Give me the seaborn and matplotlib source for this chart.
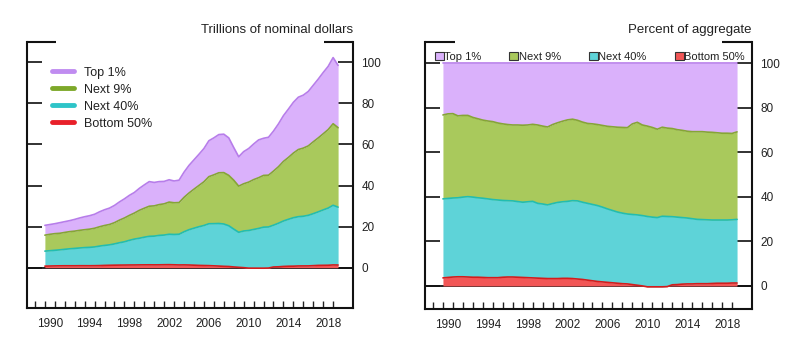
import numpy as np
import pandas as pd
import matplotlib
matplotlib.use("Agg")
import matplotlib.pyplot as plt
from matplotlib.lines import Line2D
from matplotlib.patches import Patch
import seaborn as sns

# Semiannual observations, 1990 to mid-2019
periods = np.arange(1990.0, 2019.51, 0.5)

# Aggregate household net worth, trillions of nominal dollars
total_wealth = [
    20.6, 21.0, 21.4, 21.9, 22.4, 22.9, 23.5, 24.2, 24.8, 25.3,
    26.0, 27.2, 28.2, 29.0, 30.3, 32.0, 33.5, 35.2, 36.6, 38.6,
    40.3, 41.9, 41.5, 41.9, 42.0, 42.8, 42.2, 42.6, 46.5, 49.8,
    52.5, 55.2, 58.0, 61.8, 63.2, 64.8, 65.0, 63.2, 58.5, 54.0,
    56.5, 58.0, 60.2, 62.2, 63.0, 63.5, 66.5, 70.0, 74.0, 77.2,
    80.5, 83.0, 84.0, 85.8, 88.8, 91.8, 95.0, 98.0, 102.3, 98.5,
]

# Shares of aggregate net worth by wealth group, percent
share_bottom50 = [
    3.6, 3.8, 4.0, 4.1, 4.1, 4.0, 3.9, 3.9, 3.8, 3.7,
    3.7, 3.7, 3.9, 4.0, 4.0, 3.9, 3.8, 3.7, 3.6, 3.5,
    3.4, 3.3, 3.3, 3.3, 3.4, 3.4, 3.3, 3.1, 2.9, 2.6,
    2.3, 2.0, 1.8, 1.6, 1.4, 1.2, 1.0, 0.9, 0.6, 0.3,
    0.0, -0.4, -0.4, -0.4, -0.4, -0.3, 0.5, 0.6, 0.8, 0.9,
    0.9, 1.0, 1.0, 1.0, 1.1, 1.2, 1.2, 1.2, 1.3, 1.3,
]
share_next40 = [
    35.5, 35.5, 35.5, 35.5, 35.8, 36.1, 36.0, 35.7, 35.6, 35.4,
    35.1, 34.9, 34.5, 34.3, 34.2, 34.0, 33.8, 34.1, 34.4, 33.6,
    33.4, 33.1, 33.7, 34.2, 34.4, 34.6, 35.0, 35.1, 34.7, 34.5,
    34.3, 34.1, 33.6, 33.0, 32.5, 32.0, 31.7, 31.4, 31.5, 31.6,
    31.6, 31.6, 31.3, 31.1, 31.7, 31.5, 30.6, 30.3, 29.9, 29.6,
    29.3, 28.9, 28.8, 28.7, 28.5, 28.4, 28.4, 28.4, 28.4, 28.6,
]
share_next9 = [
    37.7, 38.0, 37.9, 36.8, 36.7, 36.5, 35.8, 35.5, 35.1, 35.0,
    35.0, 34.6, 34.4, 34.2, 34.1, 34.4, 34.6, 34.5, 34.6, 35.2,
    35.0, 35.0, 35.5, 35.8, 36.2, 36.6, 36.6, 36.2, 36.0, 35.9,
    36.2, 36.4, 36.7, 37.1, 37.6, 38.1, 38.5, 38.8, 40.7, 41.6,
    40.7, 40.6, 40.3, 39.7, 40.0, 39.7, 39.6, 39.3, 39.2, 39.0,
    39.1, 39.4, 39.5, 39.4, 39.4, 39.2, 39.0, 39.0, 38.8, 39.3,
]
share_top1 = [
    23.2, 22.7, 22.6, 23.6, 23.4, 23.4, 24.3, 24.9, 25.5, 25.9,
    26.2, 26.8, 27.2, 27.5, 27.7, 27.7, 27.8, 27.7, 27.4, 27.7,
    28.2, 28.6, 27.5, 26.7, 26.0, 25.4, 25.1, 25.6, 26.4, 27.0,
    27.2, 27.5, 27.9, 28.3, 28.5, 28.7, 28.8, 28.9, 27.2, 26.5,
    27.7, 28.2, 28.8, 29.6, 28.7, 29.1, 29.3, 29.8, 30.1, 30.5,
    30.7, 30.7, 30.7, 30.9, 31.0, 31.2, 31.4, 31.4, 31.5, 30.8,
]

groups = ["Bottom 50%", "Next 40%", "Next 9%", "Top 1%"]
fill_colors = ["#F25656", "#5ED3D8", "#A9C95C", "#DAB1FB"]
edge_colors = ["#D41C1C", "#22BDB0", "#86A536", "#B77DEA"]
key_colors = ["#E8202A", "#2EC4C8", "#7DA82A", "#C08CF0"]

shares = pd.DataFrame(
    {"period": periods, "Bottom 50%": share_bottom50, "Next 40%": share_next40,
     "Next 9%": share_next9, "Top 1%": share_top1}
)
levels = shares.copy()
for g in groups:
    levels[g] = shares[g] * np.asarray(total_wealth) / 100.0

sns.set_theme(style="white")
plt.rcParams["font.family"] = ["Liberation Sans", "DejaVu Sans"]
plt.rcParams["text.color"] = "#222222"

fig = plt.figure(figsize=(8.0, 3.45), dpi=100)
ax_lvl = fig.add_axes([0.03375, 0.1063, 0.4075, 0.7727])
ax_pct = fig.add_axes([0.53125, 0.1035, 0.40875, 0.7755])

TXT = "#222222"


def draw_stack(ax, df):
    lower = np.zeros(len(df))
    for g, fc, ec in zip(groups, fill_colors, edge_colors):
        upper = lower + df[g].to_numpy()
        ax.fill_between(df["period"], lower, upper, color=fc, lw=0, zorder=2)
        sns.lineplot(x=df["period"].to_numpy(), y=upper, ax=ax, color=ec,
                     lw=1.2, zorder=3, legend=False)
        lower = upper


def style_axes(ax, ylim, top_gap):
    ax.set_xlim(1988.2, 2021.0)
    ax.set_ylim(*ylim)
    ax.axhline(0, color="#111111", lw=1.3, zorder=1)
    ax.set_yticks(np.arange(0, 101, 20))
    ax.set_xticks(np.arange(1990, 2019, 4) + 0.5)
    ax.set_xticklabels([str(y) for y in range(1990, 2019, 4)])
    ax.set_xticks(np.arange(1989, 2020, 1), minor=True)
    ax.tick_params(axis="y", which="major", left=True, right=True,
                   labelleft=False, labelright=True, direction="in",
                   length=10.5, width=1.3, color="#222222", pad=6,
                   labelsize=8.5, labelcolor=TXT)
    ax.tick_params(axis="x", which="major", length=0, pad=7,
                   labelsize=8.5, labelcolor=TXT)
    ax.tick_params(axis="x", which="minor", bottom=True, direction="in",
                   length=5, width=1.0, color="#222222")
    for side in ["left", "right", "bottom"]:
        ax.spines[side].set_visible(True)
        ax.spines[side].set_color("#111111")
        ax.spines[side].set_linewidth(1.5)
    ax.spines["top"].set_visible(False)
    for x0, x1 in [(0, top_gap), (1 - top_gap, 1)]:
        ax.plot([x0, x1], [1, 1], transform=ax.transAxes, color="#111111",
                lw=1.5, clip_on=False, solid_capstyle="butt")
    ax.set_xlabel("")
    ax.set_ylabel("")


# Left panel: levels in trillions of dollars
draw_stack(ax_lvl, levels)
style_axes(ax_lvl, (-19.8, 110.0), 0.09)
ax_lvl.text(1.0, 1.044, "Trillions of nominal dollars", transform=ax_lvl.transAxes,
            ha="right", va="center", fontsize=9.5, color=TXT)
line_handles = [Line2D([0], [0], color=c, lw=3.5) for c in key_colors[::-1]]
ax_lvl.legend(line_handles, groups[::-1], loc="upper left",
              bbox_to_anchor=(0.076, 0.906), frameon=False, fontsize=9,
              handlelength=1.8, handletextpad=0.8, labelspacing=0.4,
              borderpad=0, borderaxespad=0, labelcolor=TXT)

# Right panel: shares of the aggregate
draw_stack(ax_pct, shares)
style_axes(ax_pct, (-10.5, 109.7), 0.092)
ax_pct.text(0.997, 1.044, "Percent of aggregate", transform=ax_pct.transAxes,
            ha="right", va="center", fontsize=9.5, color=TXT)
box_handles = [Patch(facecolor=fc, edgecolor="#333333", lw=0.8)
               for fc in fill_colors[::-1]]
ax_pct.legend(box_handles, groups[::-1], loc="lower left",
              bbox_to_anchor=(0.03, 0.925, 0.948, 0.05), mode="expand",
              ncol=4, frameon=False, fontsize=8, handlelength=0.8,
              handleheight=0.8, handletextpad=0.05, columnspacing=0.5,
              borderpad=0, borderaxespad=0, labelcolor=TXT)

fig.savefig("out.png", dpi=100)
